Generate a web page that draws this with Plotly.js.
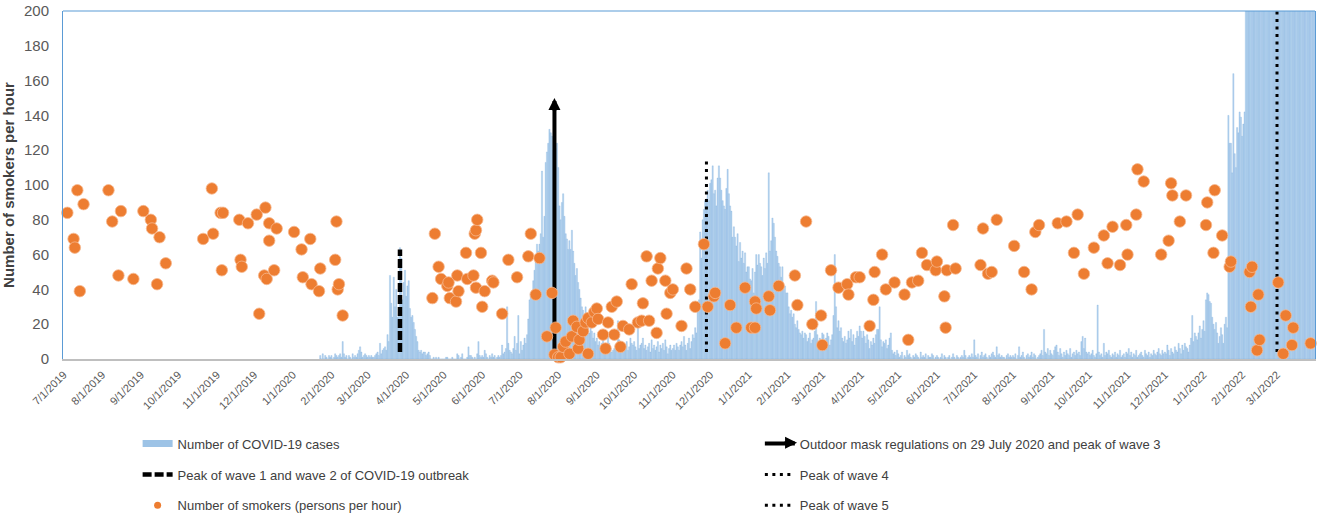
<!DOCTYPE html>
<html>
<head>
<meta charset="utf-8">
<script src="https://cdn.plot.ly/plotly-3.0.1.min.js"></script>
<style>
  html, body { margin: 0; padding: 0; background: #fff; }
  #chart { width: 1325px; height: 514px; }
</style>
</head>
<body>
<div id="chart"></div>
<script>
// daily COVID-19 cases, one array per month, first bar on 23 Jan 2020
var casesStart = '2020-01-23';
var cases2020Jan = [2,0,3,0,2,1,0,2,1];
var cases2020Feb = [2,0,1,3,2,1,2,3,1,10,3,1,2,0,2,1,0,3,1,2,1,3,5,7,4,1,2,3,2];
var cases2020Mar = [1,2,1,2,1,1,2,3,4,2,9,3,5,6,7,5,14,10,48,32,24,47,30,40,24,26,64,58,34,44,51];
var cases2020Apr = [36,42,45,29,24,25,21,17,13,10,5,4,5,3,4,4,2,3,4,2,0,0,1,0,1,0,1,0,0,0];
var cases2020May = [0,0,1,1,0,0,0,1,0,0,0,3,2,0,1,3,0,0,0,1,7,2,2,1,0,1,0,3,10,2,1];
var cases2020Jun = [2,1,5,3,1,0,2,1,3,1,2,0,1,2,1,2,8,3,4,6,30,9,5,4,3,6,13,5,9,25];
var cases2020Jul = [3,10,5,8,12,9,14,23,34,38,38,45,51,60,66,62,66,72,108,70,82,113,119,124,132,130,128,120,140,121,124];
var cases2020Aug = [110,88,80,90,95,82,72,69,63,68,63,74,62,55,48,52,44,40,35,30,28,25,30,20,18,15,20,16,12,15,10];
var cases2020Sep = [12,8,10,6,9,11,5,8,7,13,9,6,4,5,6,8,9,22,11,7,5,9,6,8,10,5,7,12,9,8];
var cases2020Oct = [10,7,5,20,6,8,9,12,6,8,5,7,9,4,11,6,8,5,7,10,4,8,6,9,5,11,7,3,6,8,5];
var cases2020Nov = [6,8,5,9,7,5,8,10,7,13,8,5,9,12,6,10,14,12,18,15,30,34,73,58,80,86,91,92,97,91];
var cases2020Dec = [101,103,111,95,97,88,104,111,104,97,91,88,86,98,109,95,88,85,70,76,70,65,72,56,67,58,62,55,61,50,53];
var cases2021Jan = [53,46,45,52,38,50,60,54,60,55,53,48,58,52,61,55,107,62,68,81,78,70,62,59,55,53,47,53,40,42,38];
var cases2021Feb = [38,30,26,28,24,26,20,18,22,17,15,14,16,12,15,14,10,12,15,9,11,12,16,33,14,10,12,9];
var cases2021Mar = [15,14,10,12,15,13,8,11,14,25,60,30,18,22,16,18,12,10,13,9,11,16,12,17,10,14,8,12,16,13,19];
var cases2021Apr = [16,12,16,13,9,14,11,6,10,8,12,9,14,17,17,30,11,7,10,9,11,6,8,12,15,5,3,4,2,5];
var cases2021May = [3,1,2,4,0,2,1,5,2,3,1,0,2,1,3,2,1,0,4,1,2,1,3,0,2,1,1,3,2,0,1];
var cases2021Jun = [2,1,0,1,3,0,2,1,0,1,2,0,1,3,1,0,2,1,0,1,2,1,5,2,0,1,2,1,3,1];
var cases2021Jul = [11,2,1,3,0,2,4,1,2,3,1,0,2,1,3,4,2,1,7,2,3,1,2,1,1,0,2,3,1,2,1];
var cases2021Aug = [2,1,3,0,2,7,1,2,4,1,0,2,3,1,2,4,1,3,2,0,1,2,3,5,2,17,4,3,6,2,5];
var cases2021Sep = [3,2,5,7,8,4,2,6,3,1,4,2,5,3,2,6,1,3,4,2,5,3,4,2,10,13,6,12,4,3];
var cases2021Oct = [4,2,3,5,2,1,3,31,4,2,3,1,9,2,4,3,5,2,1,3,2,4,1,3,2,5,1,2,3,1,4];
var cases2021Nov = [3,6,2,4,1,3,2,5,1,2,3,4,2,1,5,3,2,4,1,3,2,5,3,2,4,6,3,2,5,3];
var cases2021Dec = [4,3,8,5,2,6,4,3,7,5,4,9,6,3,8,5,9,7,6,4,8,12,25,10,15,13,11,15,19,12,17];
var cases2022Jan = [22,16,34,38,37,33,32,24,20,17,21,15,9,13,18,14,9,20,24,18,140,124,124,107,164,118,110,133,130,142,139];
var cases2022Feb = [128,135,142,252,351,614,625,1161,1325,1068,1514,1347,2071,1592,1619,2116,4285,6116,6067,7533,6063,7211,8798,10010,8674,10586,26026,34876];
var cases2022Mar = [32597,55353,76991,52523,50310,43159,35285,33445,40000,32430,32469,27647,32430,26908,26386,24100,23000,20082,16597,14068,14149,20079,18000,10405,9672,8751,7905,6646,7340,6000,5500];

var casesByMonth = [cases2020Jan, cases2020Feb, cases2020Mar, cases2020Apr, cases2020May, cases2020Jun,
  cases2020Jul, cases2020Aug, cases2020Sep, cases2020Oct, cases2020Nov, cases2020Dec,
  cases2021Jan, cases2021Feb, cases2021Mar, cases2021Apr, cases2021May, cases2021Jun,
  cases2021Jul, cases2021Aug, cases2021Sep, cases2021Oct, cases2021Nov, cases2021Dec,
  cases2022Jan, cases2022Feb, cases2022Mar];

// smokers counted per hour, one survey day per point
var smokerDates = [
  '2019-07-04','2019-07-09','2019-07-10','2019-07-12','2019-07-14','2019-07-17','2019-08-06','2019-08-09',
  '2019-08-14','2019-08-16','2019-08-26','2019-09-03','2019-09-09','2019-09-10','2019-09-14','2019-09-16',
  '2019-09-21','2019-10-21','2019-10-28','2019-10-29','2019-11-04','2019-11-05','2019-11-06','2019-11-19',
  '2019-11-20','2019-11-21','2019-11-26','2019-12-03','2019-12-05','2019-12-09','2019-12-10','2019-12-11',
  '2019-12-13','2019-12-13','2019-12-17','2019-12-19','2020-01-02','2020-01-08','2020-01-09','2020-01-15',
  '2020-01-16','2020-01-22','2020-01-23','2020-02-04','2020-02-05','2020-02-06','2020-02-07','2020-02-10',
  '2020-04-22','2020-04-24','2020-04-27','2020-04-29','2020-05-04','2020-05-05','2020-05-06','2020-05-11',
  '2020-05-12','2020-05-13','2020-05-19','2020-05-20','2020-05-25','2020-05-26','2020-05-27','2020-05-28',
  '2020-05-27','2020-05-31','2020-06-01','2020-06-03','2020-06-09','2020-06-10','2020-06-17','2020-06-22',
  '2020-06-29','2020-07-08','2020-07-10','2020-07-14','2020-07-17','2020-07-23','2020-07-27','2020-07-29',
  '2020-07-30','2020-08-01','2020-08-03','2020-08-05','2020-08-07','2020-08-10','2020-08-12','2020-08-13',
  '2020-08-16','2020-08-17','2020-08-18','2020-08-21','2020-08-23','2020-08-25','2020-08-25','2020-08-28',
  '2020-08-30','2020-09-01','2020-09-02','2020-09-06','2020-09-08','2020-09-10','2020-09-13','2020-09-15',
  '2020-09-17','2020-09-20','2020-09-22','2020-09-27','2020-09-29','2020-10-04','2020-10-07','2020-10-08',
  '2020-10-11','2020-10-13','2020-10-15','2020-10-19','2020-10-20','2020-10-22','2020-10-26','2020-10-27',
  '2020-10-30','2020-11-01','2020-11-08','2020-11-12','2020-11-15','2020-11-19','2020-11-26','2020-11-29',
  '2020-12-04','2020-12-05','2020-12-13','2020-12-17','2020-12-22','2020-12-29','2021-01-03','2021-01-06',
  '2021-01-06','2021-01-07','2021-01-17','2021-01-18','2021-01-25','2021-02-07','2021-02-09','2021-02-16',
  '2021-02-21','2021-02-28','2021-03-01','2021-03-08','2021-03-14','2021-03-21','2021-03-22','2021-03-28',
  '2021-03-31','2021-04-08','2021-04-11','2021-04-12','2021-04-18','2021-04-21','2021-04-28','2021-05-06',
  '2021-05-09','2021-05-12','2021-05-17','2021-05-20','2021-05-24','2021-05-31','2021-06-01','2021-06-07',
  '2021-06-08','2021-06-09','2021-06-14','2021-06-16','2021-07-06','2021-07-08','2021-07-12','2021-07-15',
  '2021-07-19','2021-08-02','2021-08-10','2021-08-16','2021-08-19','2021-08-22','2021-09-06','2021-09-13',
  '2021-09-19','2021-09-22','2021-09-27','2021-10-05','2021-10-13','2021-10-16','2021-10-20','2021-10-26',
  '2021-10-31','2021-11-01','2021-11-08','2021-11-09','2021-11-14','2021-11-28','2021-12-04','2021-12-06',
  '2021-12-07','2021-12-13','2021-12-18','2022-01-03','2022-01-04','2022-01-09','2022-01-10','2022-01-16',
  '2022-01-22','2022-01-23','2022-02-07','2022-02-08','2022-02-09','2022-02-13','2022-02-14','2022-02-15',
  '2022-03-02','2022-03-06','2022-03-08','2022-03-13','2022-03-14','2022-03-28'
];
var smokerCounts = [
  84,69,64,97,39,89,97,79,
  48,85,46,85,80,75,43,70,
  55,69,98,72,84,51,84,80,
  57,53,78,83,26,48,87,46,
  78,68,51,75,73,63,47,69,
  43,39,52,57,79,40,43,25,
  35,72,53,46,42,44,35,33,
  48,39,61,46,48,72,74,80,
  41,61,30,39,45,44,26,57,
  47,59,72,37,58,13,38,2.5,
  18,1,1,7,10,3,13,22,
  18.5,6,11,16,21,23.5,3,21,
  27,29,23,14,6,21,30,14,
  33,7,19,17,43,21,22,32,
  59,22,45,15,52,58,45,26,
  38,40,19,52,40,30,66,30,
  36,38,9,31,18,41,18,18,
  33,29,36,28,42,48,31,79,
  20,25,8,51,41,43,37,47,
  47,19,34,50,60,40,44,37,
  11,44,45,61,54,51,56,36,
  18,51,77,52,54,75,49,50,
  80,65,50,40,73,77,78,79,
  61,83,49,64,71,55,76,54,
  77,60,83,109,102,60,68,101,
  94,79,94,77,90,61,97,71,
  53,56,50,30,53,5,37,11,
  44,3,25,8,18,9
];

// vertical markers: wave 1/2 peak, mask rule + wave 3, wave 4, wave 5
var peakDates = ['2020-03-27', '2020-07-29', '2020-11-28', '2022-03-01'];
var peakBottoms = [4, 0, 4, 4];
var peakTops = [63, 150, 116, 200];
var peakNames = ['Peak of wave 1 and wave 2 of COVID-19 outbreak',
  'Outdoor mask regulations on 29 July 2020 and peak of wave 3',
  'Peak of wave 4', 'Peak of wave 5'];

function dayList(start, n) {
  var out = [];
  var d = new Date(start + 'T00:00:00Z');
  for (var i = 0; i < n; i++) {
    out.push(d.toISOString().slice(0, 10));
    d.setUTCDate(d.getUTCDate() + 1);
  }
  return out;
}

var caseValues = [].concat.apply([], casesByMonth);
var caseDates = dayList(casesStart, caseValues.length);

var legendFont = {family: 'Liberation Sans, Arial, sans-serif', size: 13, color: '#404040'};

var bars = {
  type: 'bar', x: caseDates, y: caseValues,
  marker: {color: '#B7D3EE', line: {color: '#6FA6DA', width: 0.25}},
  showlegend: false, hoverinfo: 'skip'
};
var barsKey = {
  type: 'scatter', mode: 'lines', x: [null], y: [null],
  name: 'Number of COVID-19 cases',
  line: {color: '#9DC3E6', width: 7},
  legend: 'legend', legendgroup: 'g1', legendrank: 1
};

var peakStyles = [
  {color: '#000', width: 4.5, dash: '9px,3px'},
  {color: '#000', width: 4},
  {color: '#000', width: 3, dash: '3px,4.5px'},
  {color: '#000', width: 3, dash: '3px,4.5px'}
];
var peakTraces = peakDates.map(function (d, i) {
  var top = i === 1 ? peakTops[i] - 5 : peakTops[i];
  return {
    type: 'scatter', mode: 'lines',
    x: [d, d], y: [peakBottoms[i], top],
    name: peakNames[i], line: peakStyles[i],
    legend: i === 0 ? 'legend' : 'legend2',
    legendgroup: 'p' + i, legendrank: i === 0 ? 2 : i,
    hoverinfo: 'skip'
  };
});

var smokers = {
  type: 'scatter', mode: 'markers', x: smokerDates, y: smokerCounts,
  marker: {size: 11.5, color: '#ED7D31', line: {color: '#F6B88E', width: 0.8}},
  cliponaxis: false, showlegend: false, hoverinfo: 'skip'
};
var smokersKey = {
  type: 'scatter', mode: 'markers', x: [null], y: [null],
  name: 'Number of smokers (persons per hour)',
  marker: {size: 7, color: '#ED7D31'},
  legend: 'legend', legendgroup: 'g3', legendrank: 3
};

var data = [bars].concat(peakTraces, [smokers, barsKey, smokersKey]);

var layout = {
  width: 1325, height: 514,
  margin: {l: 63, r: 10, t: 11, b: 155, autoexpand: false},
  paper_bgcolor: '#fff', plot_bgcolor: '#fff',
  font: {family: 'Liberation Sans, Arial, sans-serif', color: '#595959'},
  bargap: 0,
  showlegend: true,
  xaxis: {
    type: 'date',
    range: ['2019-06-30 12:00', '2022-03-31 12:00'],
    tick0: '2019-07-01', dtick: 'M1', tickformat: '%-m/%-d/%Y',
    tickangle: -45, tickfont: {size: 11, color: '#595959'},
    ticklabelstandoff: 3,
    showgrid: false, zeroline: false, ticks: '',
    showline: true, linecolor: '#BFBFBF', linewidth: 2
  },
  yaxis: {
    range: [0, 200], dtick: 20,
    showgrid: false, zeroline: false, ticks: '',
    showline: true, mirror: true, linecolor: '#5B9BD5', linewidth: 1,
    tickfont: {size: 15, color: '#595959'},
    ticklabelstandoff: 10,
    title: {text: '<b>Number of smokers per hour</b>', font: {size: 15, color: '#404040'}, standoff: 5}
  },
  shapes: [
    {type: 'line', xref: 'paper', yref: 'paper', x0: 0, x1: 1, y0: 1, y1: 1,
     line: {color: '#5B9BD5', width: 1.2}}
  ],
  annotations: [
    {x: peakDates[1], y: peakTops[1], xref: 'x', yref: 'y', text: '',
     showarrow: true, arrowhead: 2, arrowsize: 0.6, arrowwidth: 4, arrowcolor: '#000',
     ax: 0, ay: 14, standoff: 0},
    {x: 0.5863, y: -0.2405, xref: 'paper', yref: 'paper', text: '',
     showarrow: true, arrowhead: 2, arrowsize: 0.8, arrowwidth: 3, arrowcolor: '#000',
     ax: -14, ay: 0, standoff: 0}
  ],
  legend: {
    x: 0.0596, y: -0.20, xanchor: 'left', yanchor: 'top',
    orientation: 'v', font: legendFont, tracegroupgap: 11,
    bgcolor: 'rgba(0,0,0,0)', traceorder: 'grouped'
  },
  legend2: {
    x: 0.5566, y: -0.20, xanchor: 'left', yanchor: 'top',
    orientation: 'v', font: legendFont, tracegroupgap: 11,
    bgcolor: 'rgba(0,0,0,0)', traceorder: 'grouped'
  }
};

Plotly.newPlot('chart', data, layout, {staticPlot: true, displayModeBar: false});
</script>
</body>
</html>
